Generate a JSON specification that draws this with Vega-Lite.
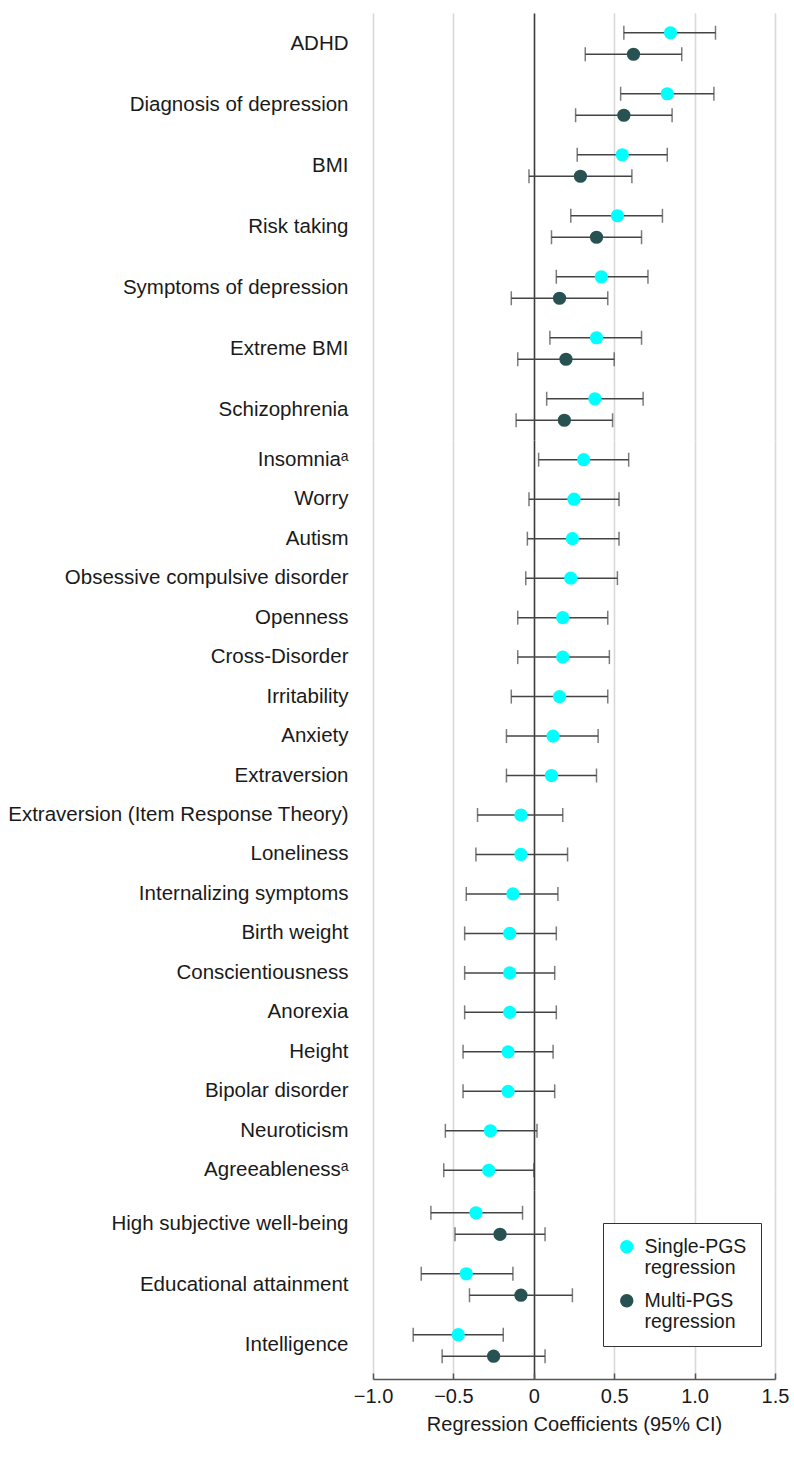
{
  "$schema": "https://vega.github.io/schema/vega-lite/v6.json",
  "padding": {"left": 7, "top": 13, "right": 0, "bottom": 4},
  "background": "white",
  "data": {"values": [
    {"trait": "ADHD", "model": "Single-PGS regression", "est": 0.85, "lo": 0.56, "hi": 1.13, "block": "top"},
    {"trait": "ADHD", "model": "Multi-PGS regression", "est": 0.62, "lo": 0.32, "hi": 0.92, "block": "top"},
    {"trait": "Diagnosis of depression", "model": "Single-PGS regression", "est": 0.83, "lo": 0.54, "hi": 1.12, "block": "top"},
    {"trait": "Diagnosis of depression", "model": "Multi-PGS regression", "est": 0.56, "lo": 0.26, "hi": 0.86, "block": "top"},
    {"trait": "BMI", "model": "Single-PGS regression", "est": 0.55, "lo": 0.27, "hi": 0.83, "block": "top"},
    {"trait": "BMI", "model": "Multi-PGS regression", "est": 0.29, "lo": -0.03, "hi": 0.61, "block": "top"},
    {"trait": "Risk taking", "model": "Single-PGS regression", "est": 0.52, "lo": 0.23, "hi": 0.80, "block": "top"},
    {"trait": "Risk taking", "model": "Multi-PGS regression", "est": 0.39, "lo": 0.11, "hi": 0.67, "block": "top"},
    {"trait": "Symptoms of depression", "model": "Single-PGS regression", "est": 0.42, "lo": 0.14, "hi": 0.71, "block": "top"},
    {"trait": "Symptoms of depression", "model": "Multi-PGS regression", "est": 0.16, "lo": -0.14, "hi": 0.46, "block": "top"},
    {"trait": "Extreme BMI", "model": "Single-PGS regression", "est": 0.39, "lo": 0.10, "hi": 0.67, "block": "top"},
    {"trait": "Extreme BMI", "model": "Multi-PGS regression", "est": 0.20, "lo": -0.10, "hi": 0.50, "block": "top"},
    {"trait": "Schizophrenia", "model": "Single-PGS regression", "est": 0.38, "lo": 0.08, "hi": 0.68, "block": "top"},
    {"trait": "Schizophrenia", "model": "Multi-PGS regression", "est": 0.19, "lo": -0.11, "hi": 0.49, "block": "top"},
    {"trait": "Insomniaᵃ", "model": "Single-PGS regression", "est": 0.31, "lo": 0.03, "hi": 0.59, "block": "mid"},
    {"trait": "Worry", "model": "Single-PGS regression", "est": 0.25, "lo": -0.03, "hi": 0.53, "block": "mid"},
    {"trait": "Autism", "model": "Single-PGS regression", "est": 0.24, "lo": -0.04, "hi": 0.53, "block": "mid"},
    {"trait": "Obsessive compulsive disorder", "model": "Single-PGS regression", "est": 0.23, "lo": -0.05, "hi": 0.52, "block": "mid"},
    {"trait": "Openness", "model": "Single-PGS regression", "est": 0.18, "lo": -0.10, "hi": 0.46, "block": "mid"},
    {"trait": "Cross-Disorder", "model": "Single-PGS regression", "est": 0.18, "lo": -0.10, "hi": 0.47, "block": "mid"},
    {"trait": "Irritability", "model": "Single-PGS regression", "est": 0.16, "lo": -0.14, "hi": 0.46, "block": "mid"},
    {"trait": "Anxiety", "model": "Single-PGS regression", "est": 0.12, "lo": -0.17, "hi": 0.40, "block": "mid"},
    {"trait": "Extraversion", "model": "Single-PGS regression", "est": 0.11, "lo": -0.17, "hi": 0.39, "block": "mid"},
    {"trait": "Extraversion (Item Response Theory)", "model": "Single-PGS regression", "est": -0.08, "lo": -0.35, "hi": 0.18, "block": "mid"},
    {"trait": "Loneliness", "model": "Single-PGS regression", "est": -0.08, "lo": -0.36, "hi": 0.21, "block": "mid"},
    {"trait": "Internalizing symptoms", "model": "Single-PGS regression", "est": -0.13, "lo": -0.42, "hi": 0.15, "block": "mid"},
    {"trait": "Birth weight", "model": "Single-PGS regression", "est": -0.15, "lo": -0.43, "hi": 0.14, "block": "mid"},
    {"trait": "Conscientiousness", "model": "Single-PGS regression", "est": -0.15, "lo": -0.43, "hi": 0.13, "block": "mid"},
    {"trait": "Anorexia", "model": "Single-PGS regression", "est": -0.15, "lo": -0.43, "hi": 0.14, "block": "mid"},
    {"trait": "Height", "model": "Single-PGS regression", "est": -0.16, "lo": -0.44, "hi": 0.12, "block": "mid"},
    {"trait": "Bipolar disorder", "model": "Single-PGS regression", "est": -0.16, "lo": -0.44, "hi": 0.13, "block": "mid"},
    {"trait": "Neuroticism", "model": "Single-PGS regression", "est": -0.27, "lo": -0.55, "hi": 0.02, "block": "mid"},
    {"trait": "Agreeablenessᵃ", "model": "Single-PGS regression", "est": -0.28, "lo": -0.56, "hi": 0.00, "block": "mid"},
    {"trait": "High subjective well-being", "model": "Single-PGS regression", "est": -0.36, "lo": -0.64, "hi": -0.07, "block": "bot"},
    {"trait": "High subjective well-being", "model": "Multi-PGS regression", "est": -0.21, "lo": -0.49, "hi": 0.07, "block": "bot"},
    {"trait": "Educational attainment", "model": "Single-PGS regression", "est": -0.42, "lo": -0.70, "hi": -0.13, "block": "bot"},
    {"trait": "Educational attainment", "model": "Multi-PGS regression", "est": -0.08, "lo": -0.40, "hi": 0.24, "block": "bot"},
    {"trait": "Intelligence", "model": "Single-PGS regression", "est": -0.47, "lo": -0.75, "hi": -0.19, "block": "bot"},
    {"trait": "Intelligence", "model": "Multi-PGS regression", "est": -0.25, "lo": -0.57, "hi": 0.07, "block": "bot"}
  ]},
  "spacing": 0,
  "resolve": {"scale": {"yOffset": "independent", "color": "shared"}, "legend": {"color": "independent"}},
  "vconcat": [
    {
      "width": 402, "height": 427,
      "transform": [{"filter": "datum.block == 'top'"}],
      "layer": [
        {
          "mark": {"type": "rule", "color": "#444444", "strokeWidth": 1.5},
          "encoding": {
            "y": {"field": "trait", "type": "nominal", "sort": null, "title": null, "scale": {"paddingInner": 0, "paddingOuter": 0}},
            "yOffset": {"field": "model", "type": "nominal", "sort": ["Single-PGS regression", "Multi-PGS regression"], "scale": {"paddingInner": 0, "paddingOuter": 0.42}},
            "x": {"field": "lo", "type": "quantitative", "scale": {"domain": [-1, 1.5], "nice": false, "zero": false},
                  "axis": {"values": [-1, -0.5, 0, 0.5, 1, 1.5], "labels": false, "ticks": false, "domain": false, "title": null, "grid": true,
                           "tickSize": 0, "labelPadding": 0, "minExtent": 0, "maxExtent": 0, "offset": 0}},
            "x2": {"field": "hi"}
          }
        },
        {
          "mark": {"type": "tick", "color": "#444444", "thickness": 1.5, "size": 14},
          "encoding": {
            "y": {"field": "trait", "type": "nominal", "sort": null},
            "yOffset": {"field": "model", "type": "nominal", "sort": ["Single-PGS regression", "Multi-PGS regression"]},
            "x": {"field": "lo", "type": "quantitative"}
          }
        },
        {
          "mark": {"type": "tick", "color": "#444444", "thickness": 1.5, "size": 14},
          "encoding": {
            "y": {"field": "trait", "type": "nominal", "sort": null},
            "yOffset": {"field": "model", "type": "nominal", "sort": ["Single-PGS regression", "Multi-PGS regression"]},
            "x": {"field": "hi", "type": "quantitative"}
          }
        },
        {
          "mark": {"type": "circle", "size": 175, "opacity": 1},
          "encoding": {
            "y": {"field": "trait", "type": "nominal", "sort": null},
            "yOffset": {"field": "model", "type": "nominal", "sort": ["Single-PGS regression", "Multi-PGS regression"]},
            "x": {"field": "est", "type": "quantitative"},
            "color": {"field": "model", "type": "nominal", "scale": {"domain": ["Single-PGS regression", "Multi-PGS regression"], "range": ["#00FFFF", "#285252"]}, "legend": null}
          }
        }
      ]
    },
    {
      "width": 402, "height": 750,
      "transform": [{"filter": "datum.block == 'mid'"}],
      "layer": [
        {
          "mark": {"type": "rule", "color": "#444444", "strokeWidth": 1.5},
          "encoding": {
            "y": {"field": "trait", "type": "nominal", "sort": null, "title": null, "scale": {"paddingInner": 0, "paddingOuter": 0}},
            "x": {"field": "lo", "type": "quantitative", "scale": {"domain": [-1, 1.5], "nice": false, "zero": false},
                  "axis": {"values": [-1, -0.5, 0, 0.5, 1, 1.5], "labels": false, "ticks": false, "domain": false, "title": null, "grid": true,
                           "tickSize": 0, "labelPadding": 0, "minExtent": 0, "maxExtent": 0, "offset": 0}},
            "x2": {"field": "hi"}
          }
        },
        {
          "mark": {"type": "tick", "color": "#444444", "thickness": 1.5, "size": 14},
          "encoding": {
            "y": {"field": "trait", "type": "nominal", "sort": null},
            "x": {"field": "lo", "type": "quantitative"}
          }
        },
        {
          "mark": {"type": "tick", "color": "#444444", "thickness": 1.5, "size": 14},
          "encoding": {
            "y": {"field": "trait", "type": "nominal", "sort": null},
            "x": {"field": "hi", "type": "quantitative"}
          }
        },
        {
          "mark": {"type": "circle", "size": 175, "opacity": 1},
          "encoding": {
            "y": {"field": "trait", "type": "nominal", "sort": null},
            "x": {"field": "est", "type": "quantitative"},
            "color": {"field": "model", "type": "nominal", "scale": {"domain": ["Single-PGS regression", "Multi-PGS regression"], "range": ["#00FFFF", "#285252"]}, "legend": null}
          }
        }
      ]
    },
    {
      "width": 402, "height": 189,
      "transform": [{"filter": "datum.block == 'bot'"}],
      "layer": [
        {
          "mark": {"type": "rule", "color": "#444444", "strokeWidth": 1.5},
          "encoding": {
            "y": {"field": "trait", "type": "nominal", "sort": null, "title": null, "scale": {"paddingInner": 0, "paddingOuter": 0.05}},
            "yOffset": {"field": "model", "type": "nominal", "sort": ["Single-PGS regression", "Multi-PGS regression"], "scale": {"paddingInner": 0, "paddingOuter": 0.42}},
            "x": {"field": "lo", "type": "quantitative", "scale": {"domain": [-1, 1.5], "nice": false, "zero": false},
                  "axis": {"values": [-1, -0.5, 0, 0.5, 1, 1.5], "grid": true, "labelExpr": "datum.value == 0 ? '0' : format(datum.value, '.1f')",
                           "domain": true, "domainColor": "#555555", "domainWidth": 1.5, "ticks": true, "tickColor": "#555555", "tickWidth": 1.5, "tickSize": -6,
                           "labelPadding": 13, "labelFontSize": 20, "labelColor": "#1a1a1a", "labelFlush": false,
                           "title": "Regression Coefficients (95% CI)", "titleFontSize": 20, "titleFontWeight": "normal", "titleColor": "#1a1a1a", "titlePadding": 8}},
            "x2": {"field": "hi"}
          }
        },
        {
          "mark": {"type": "tick", "color": "#444444", "thickness": 1.5, "size": 14},
          "encoding": {
            "y": {"field": "trait", "type": "nominal", "sort": null},
            "yOffset": {"field": "model", "type": "nominal", "sort": ["Single-PGS regression", "Multi-PGS regression"]},
            "x": {"field": "lo", "type": "quantitative"}
          }
        },
        {
          "mark": {"type": "tick", "color": "#444444", "thickness": 1.5, "size": 14},
          "encoding": {
            "y": {"field": "trait", "type": "nominal", "sort": null},
            "yOffset": {"field": "model", "type": "nominal", "sort": ["Single-PGS regression", "Multi-PGS regression"]},
            "x": {"field": "hi", "type": "quantitative"}
          }
        },
        {
          "mark": {"type": "circle", "size": 175, "opacity": 1},
          "encoding": {
            "y": {"field": "trait", "type": "nominal", "sort": null},
            "yOffset": {"field": "model", "type": "nominal", "sort": ["Single-PGS regression", "Multi-PGS regression"]},
            "x": {"field": "est", "type": "quantitative"},
            "color": {"field": "model", "type": "nominal", "scale": {"domain": ["Single-PGS regression", "Multi-PGS regression"], "range": ["#00FFFF", "#285252"]},
                      "legend": {"orient": "none", "legendX": 230, "legendY": 33, "title": null, "fillColor": "white", "strokeColor": "#333333", "padding": 14,
                                 "symbolType": "circle", "symbolSize": 180, "symbolStrokeWidth": 0, "labelFontSize": 19.5, "labelColor": "#1a1a1a", "labelOffset": 8,
                                 "rowPadding": 12, "labelLimit": 300,
                                 "labelExpr": "datum.label == 'Single-PGS regression' ? ['Single-PGS', 'regression'] : ['Multi-PGS', 'regression']",
                                 "encode": {"labels": {"update": {"lineHeight": {"value": 24}}}}}}
          }
        }
      ]
    }
  ],
  "config": {
    "font": "Liberation Sans",
    "view": {"stroke": null},
    "axisX": {
      "gridColor": {"condition": {"test": "datum.value === 0", "value": "#3a3a3a"}, "value": "#d9d9d9"},
      "gridWidth": 1.6
    },
    "axisY": {"labelFontSize": 20.5, "labelColor": "#1a1a1a", "labelPadding": 25, "ticks": false, "domain": false, "labelLimit": 400, "grid": false}
  }
}
